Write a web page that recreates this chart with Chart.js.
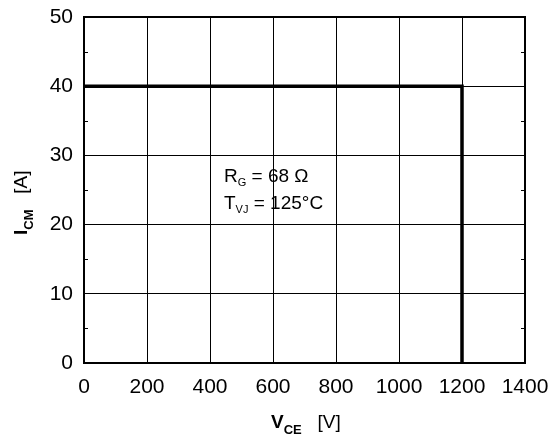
<!DOCTYPE html>
<html>
<head>
<meta charset="utf-8">
<script src="https://cdn.jsdelivr.net/npm/chart.js@4"></script>
<style>
  html, body { margin: 0; padding: 0; background: #fff; }
  canvas { display: block; }
</style>
</head>
<body>
<canvas id="socChart" width="551" height="436"></canvas>
<script>
// safe operating area - pulsed collector current
const vce = [0, 1200, 1200];
const icm = [40, 40, 0];
const xTicks = [0, 200, 400, 600, 800, 1000, 1200, 1400];
const yTicks = [0, 10, 20, 30, 40, 50];
const yMinor = [5, 15, 25, 35, 45];

const FONT = '"Liberation Sans", Arial, Helvetica, sans-serif';

// draws text pieces one after another: [text, size, bold, baselineShift]
function drawRuns(ctx, runs, x, y) {
    let cx = x;
    runs.forEach(r => {
        ctx.font = (r[2] ? 'bold ' : '') + r[1] + 'px ' + FONT;
        ctx.fillText(r[0], cx, y + (r[3] || 0));
        cx += ctx.measureText(r[0]).width;
    });
}

const extrasPlugin = {
    id: 'extras',
    afterDraw(chart) {
        const ctx = chart.ctx;
        const a = chart.chartArea;
        const ys = chart.scales.y;
        ctx.save();
        // top and right frame
        ctx.strokeStyle = '#000';
        ctx.lineWidth = 2;
        ctx.beginPath();
        ctx.moveTo(a.left, a.top);
        ctx.lineTo(a.right, a.top);
        ctx.lineTo(a.right, a.bottom);
        ctx.stroke();
        // minor ticks on left and right side
        ctx.lineWidth = 1;
        yMinor.forEach(v => {
            const py = Math.round(ys.getPixelForValue(v)) + 0.5;
            ctx.beginPath();
            ctx.moveTo(a.left, py);
            ctx.lineTo(a.left + 4, py);
            ctx.moveTo(a.right, py);
            ctx.lineTo(a.right - 4, py);
            ctx.stroke();
        });

        ctx.fillStyle = '#000';
        ctx.textBaseline = 'alphabetic';
        ctx.textAlign = 'left';

        // parameters box text
        drawRuns(ctx, [['R', 19, false], ['G', 11, false, 4], [' = 68 \u03A9', 19, false]], 224, 182);
        drawRuns(ctx, [['T', 19, false], ['VJ', 11, false, 4], [' = 125\u00B0C', 19, false]], 224, 209);

        // x axis title
        drawRuns(ctx, [['V', 19, true], ['CE', 13, true, 6], ['   [V]', 19, false]], 271, 428);

        // y axis title (rotated)
        ctx.translate(27, 235);
        ctx.rotate(-Math.PI / 2);
        drawRuns(ctx, [['I', 19, true], ['CM', 13, true, 6], ['   [A]', 19, false]], 0, 0);
        ctx.restore();
    }
};

new Chart(document.getElementById('socChart'), {
    type: 'scatter',
    data: {
        datasets: [{
            data: vce.map((v, i) => ({ x: v, y: icm[i] })),
            showLine: true,
            borderColor: '#000',
            borderWidth: 3.5,
            pointRadius: 0,
            fill: false,
            tension: 0
        }]
    },
    options: {
        responsive: false,
        animation: false,
        devicePixelRatio: 1,
        layout: { padding: { top: 17, right: 26, left: 0, bottom: 0 } },
        plugins: {
            legend: { display: false },
            tooltip: { enabled: false }
        },
        scales: {
            x: {
                type: 'linear',
                min: 0,
                max: 1400,
                afterBuildTicks: s => { s.ticks = xTicks.map(v => ({ value: v })); },
                afterFit: s => {
                    s.height = 73;
                    s.paddingLeft = 0;
                    s.paddingRight = 0;
                },
                ticks: {
                    color: '#000',
                    font: { family: FONT, size: 21 },
                    padding: 12,
                    maxRotation: 0,
                    autoSkip: false,
                    callback: v => String(v)
                },
                grid: { color: '#000', lineWidth: 1, drawTicks: false },
                border: { color: '#000', width: 2 }
            },
            y: {
                min: 0,
                max: 50,
                afterBuildTicks: s => { s.ticks = yTicks.map(v => ({ value: v })); },
                afterFit: s => {
                    s.width = 84;
                    s.paddingTop = 0;
                    s.paddingBottom = 0;
                },
                ticks: {
                    color: '#000',
                    font: { family: FONT, size: 21 },
                    padding: 11,
                    autoSkip: false,
                    callback: v => String(v)
                },
                grid: { color: '#000', lineWidth: 1, drawTicks: false },
                border: { color: '#000', width: 2 }
            }
        }
    },
    plugins: [extrasPlugin]
});
</script>
</body>
</html>
